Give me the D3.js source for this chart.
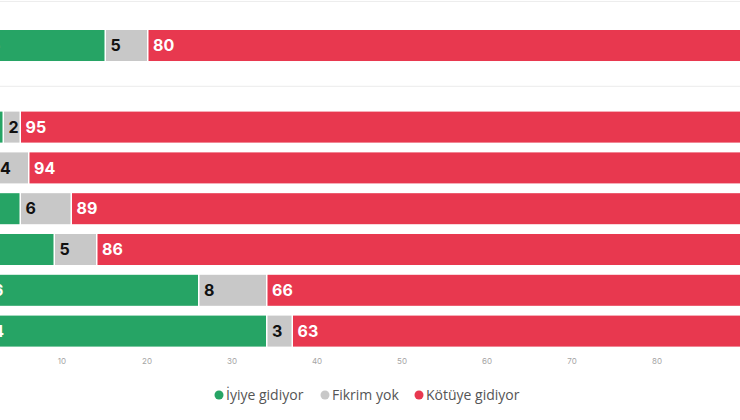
<!DOCTYPE html>
<html>
<head>
<meta charset="utf-8">
<script src="https://cdn.jsdelivr.net/npm/d3@7"></script>
<style>
  body { margin: 0; background: #fff; }
  svg { display: block; }
</style>
</head>
<body>
<svg id="chart"></svg>
<script>
// rows (labels are cut off in the picture, so only ids), "gap" is the empty slot between groups
const rows = ['r1', 'gap', 'r2', 'r3', 'r4', 'r5', 'r6', 'r7'];
const iyiye = [15, null, 3, 2, 5, 9, 26, 34];
const fikrimYok = [5, null, 2, 4, 6, 5, 8, 3];
const kotuye = [80, null, 95, 94, 89, 86, 66, 63];
const tickValues = [10, 20, 30, 40, 50, 60, 70, 80];
const seriesNames = ['İyiye gidiyor', 'Fikrim yok', 'Kötüye gidiyor'];
const seriesColors = ['#26a465', '#c8c8c8', '#e8384f'];
const labelColors = ['#fff', '#111', '#fff'];

const width = 740;
const height = 420;

const svg = d3.select('#chart')
  .attr('width', width)
  .attr('height', height);

// the chart is cropped on both sides: 0 sits left of the visible area
const x = d3.scaleLinear()
  .domain([0, 100])
  .range([-23, 827]);

const y = d3.scaleBand()
  .domain(rows)
  .range([30, 346.6])
  .paddingInner(0.24)
  .paddingOuter(0);

// faint group separators
const sepY = [y('r1') - y.step() * 0.7, y('gap') + y.bandwidth() / 2];
svg.selectAll('line.sep')
  .data(sepY)
  .enter()
  .append('line')
  .attr('class', 'sep')
  .attr('x1', 0)
  .attr('x2', width)
  .attr('y1', d => d)
  .attr('y2', d => d)
  .attr('stroke', '#ececec')
  .attr('stroke-width', 1);

// build stacked segments
const segs = [];
rows.forEach((r, i) => {
  if (iyiye[i] == null) return;
  const vals = [iyiye[i], fikrimYok[i], kotuye[i]];
  let acc = 0;
  vals.forEach((v, k) => {
    segs.push({ row: r, k, v, x0: acc, x1: acc + v });
    acc += v;
  });
});

const bars = svg.append('g');

bars.selectAll('rect.seg')
  .data(segs)
  .enter()
  .append('rect')
  .attr('class', 'seg')
  .attr('x', d => x(d.x0) + (d.k > 0 ? 1.5 : 0))
  .attr('y', d => y(d.row))
  .attr('width', d => Math.max(0, x(d.x1) - x(d.x0) - (d.k > 0 ? 1.5 : 0)))
  .attr('height', y.bandwidth())
  .attr('fill', d => seriesColors[d.k]);

bars.selectAll('text.val')
  .data(segs)
  .enter()
  .append('text')
  .attr('class', 'val')
  .attr('x', d => x(d.x0) + 6)
  .attr('y', d => y(d.row) + y.bandwidth() / 2)
  .attr('dy', '0.36em')
  .attr('fill', d => labelColors[d.k])
  .style('font-family', 'Inter, "DejaVu Sans", sans-serif')
  .style('font-size', '16px')
  .style('font-weight', 700)
  .text(d => d.v);

// x tick labels, no axis line
svg.append('g')
  .selectAll('text.tick')
  .data(tickValues)
  .enter()
  .append('text')
  .attr('class', 'tick')
  .attr('x', d => x(d))
  .attr('y', 364)
  .attr('text-anchor', 'middle')
  .attr('fill', '#a5a5a5')
  .style('font-family', 'Inter, sans-serif')
  .style('font-size', '8px')
  .text(d => d);

// legend
const legendX = [219, 325, 419];
const legend = svg.append('g');
const item = legend.selectAll('g.item')
  .data(seriesNames)
  .enter()
  .append('g')
  .attr('class', 'item')
  .attr('transform', (d, i) => `translate(${legendX[i]}, 395)`);

item.append('circle')
  .attr('r', 4.5)
  .attr('fill', (d, i) => seriesColors[i]);

item.append('text')
  .attr('x', 7)
  .attr('dy', '0.35em')
  .attr('fill', '#555')
  .style('font-family', '"Open Sans", Lato, sans-serif')
  .style('font-size', '14px')
  .text(d => d);
</script>
</body>
</html>
